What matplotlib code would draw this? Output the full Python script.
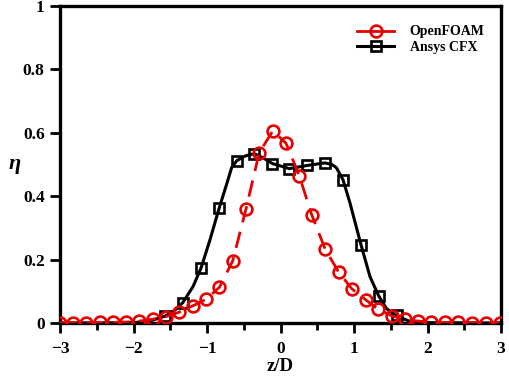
import matplotlib
matplotlib.use("Agg")
import matplotlib.pyplot as plt
from matplotlib.lines import Line2D
from matplotlib.ticker import MultipleLocator

# OpenFOAM (red circles, dashed)
foam_z = [-3.00, -2.82, -2.64, -2.46, -2.28, -2.10, -1.92, -1.74, -1.56, -1.38,
          -1.195, -1.01, -0.83, -0.65, -0.47, -0.29, -0.105, 0.075, 0.255, 0.425,
          0.61, 0.79, 0.97, 1.16, 1.33, 1.52, 1.69, 1.87, 2.05, 2.24, 2.42, 2.61,
          2.80, 2.98]
foam_eta = [0.001, 0.001, 0.001, 0.002, 0.002, 0.003, 0.006, 0.012, 0.020, 0.034,
            0.054, 0.075, 0.113, 0.196, 0.359, 0.537, 0.606, 0.567, 0.465, 0.341,
            0.232, 0.161, 0.108, 0.073, 0.043, 0.022, 0.012, 0.006, 0.003, 0.002,
            0.002, 0.001, 0.001, 0.001]

# Ansys CFX (black squares, solid)
cfx_z = [-1.57, -1.33, -1.08, -0.835, -0.595, -0.355, -0.11, 0.12, 0.365, 0.605,
         0.85, 1.095, 1.335, 1.58]
cfx_eta = [0.022, 0.064, 0.174, 0.362, 0.512, 0.534, 0.503, 0.487, 0.497, 0.505,
           0.452, 0.247, 0.086, 0.026]

# CFX curve
cfx_line_z = [-3.0, -2.0, -1.75, -1.57, -1.45, -1.33, -1.19, -1.08, -0.96, -0.835,
              -0.73, -0.665, -0.595, -0.48, -0.355, -0.23, -0.11, 0.12, 0.365, 0.605,
              0.70, 0.76, 0.85, 0.946, 1.095, 1.218, 1.335, 1.44, 1.58, 1.75, 2.0, 3.0]
cfx_line_eta = [0.0, 0.001, 0.008, 0.022, 0.038, 0.064, 0.115, 0.174, 0.262, 0.362,
                0.44, 0.49, 0.512, 0.527, 0.534, 0.52, 0.503, 0.487, 0.497, 0.505,
                0.50, 0.49, 0.452, 0.378, 0.247, 0.146, 0.086, 0.046, 0.022, 0.006,
                0.001, 0.0]

RED = "#e60000"
plt.rcParams["font.family"] = "Liberation Serif"
plt.rcParams["font.weight"] = "bold"

fig = plt.figure(figsize=(5.10, 3.77), dpi=100)
ax = fig.add_axes([60 / 510, 54 / 377, 441 / 510, 317 / 377])

ax.plot(cfx_line_z, cfx_line_eta, color="black", lw=2.2, zorder=2)
ax.plot(cfx_z, cfx_eta, ls="none", marker="s", ms=7.5, mew=1.9,
        mec="black", mfc="none", zorder=3)
ax.plot(foam_z, foam_eta, color=RED, lw=2.0, dashes=(6, 3.5), marker="o",
        ms=8.5, mew=1.9, mec=RED, mfc="none", zorder=4)

ax.set_xlim(-3, 3)
ax.set_ylim(0, 1)
ax.xaxis.set_major_locator(MultipleLocator(1))
ax.xaxis.set_minor_locator(MultipleLocator(0.5))
ax.yaxis.set_major_locator(MultipleLocator(0.2))
ax.yaxis.set_major_formatter(plt.FuncFormatter(
    lambda v, p: "0" if abs(v) < 1e-9 else ("1" if abs(v - 1) < 1e-9 else f"{v:.1f}")))

ax.tick_params(which="major", direction="out", length=7, width=2, labelsize=12.5, pad=4)
ax.tick_params(axis="x", which="major", pad=6)
ax.tick_params(which="minor", direction="out", length=5, width=2)
ax.tick_params(top=False, right=False)
for s in ax.spines.values():
    s.set_linewidth(2.4)
for lab in ax.get_xticklabels() + ax.get_yticklabels():
    lab.set_fontweight("bold")

ax.set_xlabel("z/D", fontsize=13.5, fontweight="bold", labelpad=1)
ax.set_ylabel("η", fontsize=16, fontweight="bold", style="italic",
              rotation=0, labelpad=6, va="center")

handles = [
    Line2D([], [], color=RED, lw=2.0, marker="o", ms=8.5, mew=1.9, mfc="none", mec=RED),
    Line2D([], [], color="black", lw=2.2, marker="s", ms=7.5, mew=1.9, mfc="none", mec="black"),
]
ax.legend(handles, ["OpenFOAM", "Ansys CFX"], loc="upper left",
          bbox_to_anchor=(0.645, 0.978), frameon=False,
          handlelength=2.7, handletextpad=1.1, labelspacing=0.2,
          prop={"weight": "bold", "size": 10})

fig.savefig("out.png", dpi=100)
